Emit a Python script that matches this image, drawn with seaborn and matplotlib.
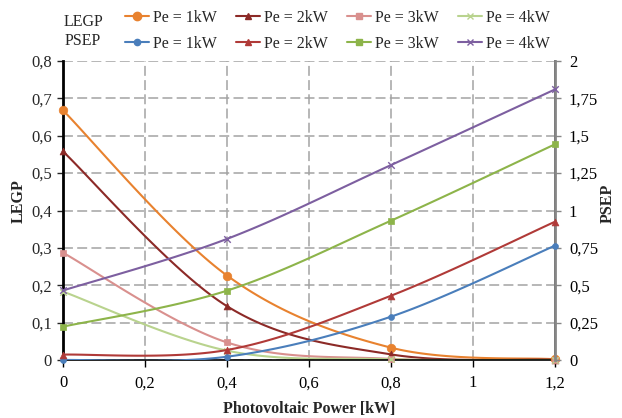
import numpy as np
import matplotlib
matplotlib.use('Agg')
import matplotlib.pyplot as plt
import seaborn as sns
from matplotlib.ticker import FuncFormatter, MultipleLocator
from matplotlib.lines import Line2D

# ---- data ----
pv_power = [0.0, 0.4, 0.8, 1.2]
series_labels = ['Pe = 1kW', 'Pe = 2kW', 'Pe = 3kW', 'Pe = 4kW']
legp_1kw = [0.668, 0.226, 0.033, 0.002]
legp_2kw = [0.558, 0.144, 0.015, 0.001]
legp_3kw = [0.287, 0.047, 0.003, 0.0]
legp_4kw = [0.183, 0.025, 0.002, 0.0]
psep_1kw = [0.0, 0.022, 0.29, 0.765]
psep_2kw = [0.036, 0.067, 0.43, 0.925]
psep_3kw = [0.223, 0.464, 0.932, 1.443]
psep_4kw = [0.465, 0.81, 1.304, 1.81]
x_ticks = [0, 0.2, 0.4, 0.6, 0.8, 1.0, 1.2]

sns.set_theme(style='white')
plt.rcParams['font.family'] = ['Liberation Serif', 'DejaVu Serif']
plt.rcParams['font.size'] = 11.5


def smooth(xs, ys, n=40):
    P = np.column_stack([xs, ys]).astype(float)
    m = len(P)
    out = []
    for i in range(m - 1):
        p0 = P[max(i - 1, 0)]
        p1 = P[i]
        p2 = P[i + 1]
        p3 = P[min(i + 2, m - 1)]
        c1 = p1 + (p2 - p0) / 6
        c2 = p2 - (p3 - p1) / 6
        t = np.linspace(0, 1, n)[:, None]
        seg = (1 - t) ** 3 * p1 + 3 * (1 - t) ** 2 * t * c1 + 3 * (1 - t) * t ** 2 * c2 + t ** 3 * p2
        out.append(seg if i == 0 else seg[1:])
    s = np.vstack(out)
    return s[:, 0], s[:, 1]


fig = plt.figure(figsize=(6.22, 4.18), dpi=100)
ax = fig.add_axes([63 / 622, 1 - 360 / 418, (555 - 63) / 622, 299 / 418])
ax2 = ax.twinx()

legp = [legp_1kw, legp_2kw, legp_3kw, legp_4kw]
psep = [psep_1kw, psep_2kw, psep_3kw, psep_4kw]
legp_colors = ['#E8822F', '#8C2A27', '#D9908E', '#B9D38E']
psep_colors = ['#4A7EBB', '#B03A38', '#8DB44A', '#7D5FA0']
markers = ['o', '^', 's', 'x']
legp_ms = [38, 24, 22, 22]
psep_ms = [18, 24, 22, 22]

for vals, c, m, s in zip(legp, legp_colors, markers, legp_ms):
    sx, sy = smooth(pv_power, vals)
    sns.lineplot(x=sx, y=sy, ax=ax, color=c, lw=1.5, sort=False, estimator=None)
    sns.scatterplot(x=pv_power, y=vals, ax=ax, color=c, marker=m, s=s,
                    edgecolor=c if m != 'x' else None, linewidth=1.0 if m == 'x' else 0.5, zorder=5)
for vals, c, m, s in zip(psep, psep_colors, markers, psep_ms):
    sx, sy = smooth(pv_power, vals)
    sns.lineplot(x=sx, y=sy, ax=ax2, color=c, lw=1.5, sort=False, estimator=None)
    sns.scatterplot(x=pv_power, y=vals, ax=ax2, color=c, marker=m, s=s,
                    edgecolor=c if m != 'x' else None, linewidth=1.0 if m == 'x' else 0.5, zorder=5)

for a in (ax, ax2):
    for coll in a.collections:
        coll.set_clip_on(False)

ax.set_xlim(0, 1.2)
ax.set_ylim(0, 0.8)
ax2.set_ylim(0, 2)
ax.set_xticks(x_ticks)
ax.yaxis.set_major_locator(MultipleLocator(0.1))
ax2.yaxis.set_major_locator(MultipleLocator(0.25))

fmt = FuncFormatter(lambda v, p: ('%g' % round(v, 3)).replace('.', ','))
ax.xaxis.set_major_formatter(fmt)
ax.yaxis.set_major_formatter(fmt)
ax2.yaxis.set_major_formatter(fmt)

ax.grid(True, ls=(0, (6.5, 2.8)), color='#A3A3A3', lw=1.1)
ax.set_axisbelow(True)

for a in (ax, ax2):
    a.spines['top'].set_visible(False)
ax.spines['left'].set_color('black')
ax.spines['left'].set_linewidth(2)
ax.spines['bottom'].set_color('black')
ax.spines['bottom'].set_linewidth(1.2)
ax2.spines['right'].set_color('#868686')
ax2.spines['right'].set_linewidth(2)
ax2.spines['left'].set_visible(False)
ax2.spines['bottom'].set_visible(False)

ax.tick_params(axis='x', direction='out', length=5, width=1, colors='black', labelsize=12, pad=6, bottom=True)
ax.tick_params(axis='y', direction='out', length=4, width=1, labelsize=12, pad=4, left=True)
ax2.tick_params(axis='y', direction='out', length=4, width=1, color='#868686', labelcolor='black',
                labelsize=12, pad=6, right=True)

ax.set_xlabel('Photovoltaic Power [kW]', fontweight='bold', fontsize=11.5, va='center')
ax.set_ylabel('LEGP', fontweight='bold', fontsize=11.5, va='center')
ax2.set_ylabel('PSEP', fontweight='bold', fontsize=11.5, va='center')
ax.xaxis.set_label_coords(0.5, -49 / 299)
ax.yaxis.set_label_coords(-44 / 492, (360 - 201) / 299)
ax2.yaxis.set_label_coords(1 + 53 / 492, (360 - 203) / 299)

handles = []
for i in range(4):
    handles.append(Line2D([], [], color=legp_colors[i], marker=markers[i], lw=1.5,
                          markersize=6 if markers[i] == 'o' else 4.5))
    handles.append(Line2D([], [], color=psep_colors[i], marker=markers[i], lw=1.5,
                          markersize=4.5))
labels = []
for lab in series_labels:
    labels += [lab, lab]

fig.legend(handles, labels, ncol=4, loc='upper left', bbox_to_anchor=(125 / 622, 1.0 - 10 / 418),
           frameon=False, fontsize=11.5, handlelength=1.5, handletextpad=0.25,
           columnspacing=1.2, labelspacing=0.6, borderaxespad=0, borderpad=0)
fig.text(83 / 622, 1 - 22 / 418, 'LEGP', ha='center', va='center', fontsize=11.5)
fig.text(83 / 622, 1 - 41 / 418, 'PSEP', ha='center', va='center', fontsize=11.5)

fig.savefig('out.png', dpi=100)
